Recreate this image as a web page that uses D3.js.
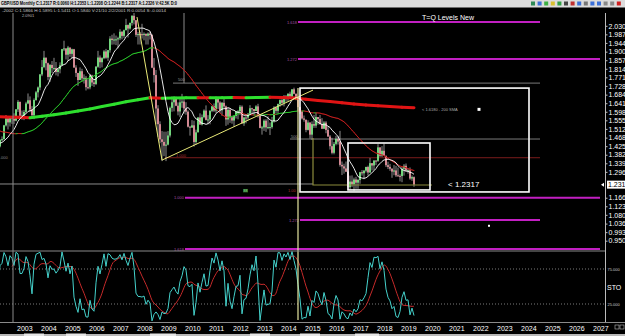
<!DOCTYPE html>
<html>
<head>
<meta charset="utf-8">
<script src="https://cdn.jsdelivr.net/npm/d3@7"></script>
<style>
body { margin: 0; background: #000; overflow: hidden; }
svg { display: block; font-family: "Liberation Sans", Arial, sans-serif; }
</style>
</head>
<body>
<svg id="chart" width="625" height="336"></svg>
<script>
// GBP/USD monthly, values (bars start Jan 2001)
var earlyCloses = [ // 1999-2000, only used to warm up the moving averages
  1.6434,1.6061,1.6122,1.6098,1.6037,1.5769,1.6091,1.6092,1.6463,1.6418,1.5928,1.6152,
  1.6154,1.5813,1.5930,1.5618,1.4994,1.5126,1.4940,1.4533,1.4792,1.4534,1.4205,1.4935];

var closes = [
  1.4642,1.4468,1.4212,1.4323,1.4215,1.4133,1.4226,1.4522,1.4715,1.4521,1.4242,1.4545,
  1.4193,1.4239,1.4239,1.4567,1.4604,1.5296,1.5651,1.5446,1.5705,1.5638,1.5533,1.6099,
  1.6480,1.5780,1.5792,1.5973,1.6397,1.6557,1.6098,1.5805,1.6571,1.6957,1.7202,1.7854,
  1.8226,1.8699,1.8420,1.7730,1.8331,1.8175,1.8175,1.7979,1.8116,1.8316,1.9126,1.9164,
  1.8847,1.9207,1.8890,1.9121,1.8200,1.7931,1.7575,1.8018,1.7659,1.7687,1.7215,1.7208,
  1.7807,1.7451,1.7378,1.8242,1.8706,1.8469,1.8675,1.9012,1.8697,1.9075,1.9654,1.9584,
  1.9612,1.9619,1.9675,2.0000,1.9794,2.0077,2.0337,2.0162,2.0445,2.0802,2.0581,1.9846,
  1.9883,1.9879,1.9864,1.9894,1.9802,1.9908,1.9835,1.8197,1.7823,1.6144,1.5356,1.4593,
  1.4466,1.4274,1.4328,1.4787,1.6175,1.6457,1.6698,1.6284,1.5996,1.6454,1.6491,1.6149,
  1.5983,1.5228,1.5183,1.5298,1.4462,1.4946,1.5690,1.5338,1.5709,1.6037,1.5571,1.5593,
  1.6026,1.6253,1.6040,1.6700,1.6445,1.6054,1.6428,1.6247,1.5593,1.6077,1.5701,1.5541,
  1.5770,1.5993,1.6007,1.6234,1.5396,1.5690,1.5688,1.5880,1.6156,1.6114,1.6020,1.6250,
  1.5856,1.5168,1.5194,1.5529,1.5193,1.5209,1.5210,1.5494,1.6188,1.6028,1.6365,1.6565,
  1.6432,1.6753,1.6662,1.6884,1.6740,1.7109,1.6885,1.6597,1.6213,1.5998,1.5643,1.5577,
  1.5069,1.5438,1.4830,1.5359,1.5283,1.5715,1.5613,1.5365,1.5127,1.5435,1.5068,1.4736,
  1.4249,1.3917,1.4367,1.4616,1.4483,1.3310,1.3235,1.3130,1.2969,1.2190,1.2471,1.2338,
  1.2577,1.2418,1.2550,1.2942,1.2888,1.3020,1.3203,1.2930,1.3397,1.3281,1.3525,1.3512,
  1.4190,1.3771,1.4020,1.3769,1.3295,1.3208,1.3117,1.2974,1.3029,1.2785,1.2758,1.2751,
  1.3112,1.3266,1.3028,1.3040,1.2624,1.2694,1.2317];

var highs = [
  1.5070,1.4780,1.4700,1.4440,1.4390,1.4250,1.4390,1.4560,1.4790,1.4770,1.4560,1.4600,
  1.4640,1.4350,1.4340,1.4600,1.4740,1.5320,1.5810,1.5650,1.5720,1.5750,1.5900,1.6120,
  1.6570,1.6480,1.6040,1.6070,1.6480,1.6900,1.6750,1.6260,1.6650,1.7030,1.7250,1.7880,
  1.8580,1.9040,1.8700,1.8450,1.8380,1.8530,1.8690,1.8480,1.8160,1.8460,1.9140,1.9550,
  1.9120,1.9290,1.9200,1.9150,1.9140,1.8320,1.7870,1.8210,1.8140,1.7860,1.7780,1.7620,
  1.7880,1.7840,1.7600,1.8280,1.9040,1.8810,1.8720,1.9080,1.9140,1.9080,1.9780,1.9850,
  1.9920,1.9810,1.9750,2.0130,2.0030,2.0110,2.0650,2.0370,2.0460,2.0830,2.1160,2.0560,
  1.9990,1.9990,2.0400,1.9970,1.9920,1.9970,2.0000,1.9880,1.8680,1.8080,1.6310,1.5500,
  1.5010,1.4980,1.4980,1.5010,1.6240,1.6750,1.6740,1.6740,1.6450,1.6690,1.6880,1.6690,
  1.6460,1.6050,1.5270,1.5560,1.5530,1.5080,1.5720,1.5900,1.5840,1.6100,1.6300,1.5810,
  1.6060,1.6280,1.6400,1.6750,1.6700,1.6510,1.6470,1.6620,1.6290,1.6170,1.6160,1.5780,
  1.5810,1.5990,1.6060,1.6320,1.6300,1.5730,1.5780,1.5920,1.6310,1.6180,1.6100,1.6310,
  1.6380,1.5860,1.5270,1.5600,1.5610,1.5750,1.5440,1.5720,1.6260,1.6260,1.6390,1.6600,
  1.6670,1.6820,1.6820,1.6910,1.6990,1.7110,1.7190,1.6890,1.6660,1.6230,1.6030,1.5790,
  1.5590,1.5550,1.5450,1.5500,1.5820,1.5930,1.5680,1.5820,1.5660,1.5510,1.5510,1.5240,
  1.4810,1.4670,1.4460,1.4770,1.4770,1.5020,1.3480,1.3370,1.3480,1.2980,1.2770,1.2780,
  1.2670,1.2710,1.2610,1.2960,1.3050,1.3050,1.3220,1.3270,1.3660,1.3340,1.3550,1.3550,
  1.4350,1.4140,1.4250,1.4380,1.3770,1.3470,1.3360,1.3140,1.3300,1.3260,1.3180,1.2840,
  1.3220,1.3350,1.3380,1.3140,1.3180,1.2780,1.2730];

var lows = [
  1.4460,1.4390,1.4160,1.4120,1.4060,1.3690,1.4020,1.4170,1.4350,1.4360,1.4090,1.4220,
  1.4060,1.4110,1.4090,1.4190,1.4500,1.4580,1.5240,1.5090,1.5240,1.5370,1.5360,1.5500,
  1.5970,1.5710,1.5580,1.5560,1.5880,1.6360,1.5960,1.5620,1.5610,1.6530,1.6700,1.7060,
  1.7770,1.8170,1.8060,1.7560,1.7480,1.7930,1.8050,1.7810,1.7760,1.7910,1.8300,1.9030,
  1.8610,1.8530,1.8740,1.8660,1.8200,1.7730,1.7280,1.7570,1.7500,1.7400,1.7050,1.7110,
  1.7110,1.7280,1.7230,1.7320,1.8190,1.8170,1.8210,1.8620,1.8640,1.8540,1.8950,1.9350,
  1.9360,1.9330,1.9170,1.9580,1.9620,1.9690,2.0080,1.9710,2.0110,2.0310,2.0370,1.9740,
  1.9360,1.9360,1.9660,1.9570,1.9360,1.9360,1.9610,1.8170,1.7450,1.5350,1.4720,1.4400,
  1.3500,1.3750,1.3500,1.4290,1.4690,1.5980,1.6000,1.6260,1.5800,1.5710,1.6180,1.5880,
  1.5830,1.5190,1.4780,1.5180,1.4230,1.4330,1.4950,1.5330,1.5290,1.5650,1.5540,1.5350,
  1.5350,1.5960,1.5970,1.5930,1.6120,1.5910,1.5780,1.6160,1.5270,1.5330,1.5420,1.5380,
  1.5230,1.5640,1.5600,1.5810,1.5390,1.5270,1.5400,1.5570,1.5880,1.5910,1.5830,1.6010,
  1.5690,1.5150,1.4830,1.5020,1.4970,1.5100,1.4810,1.5130,1.5430,1.5890,1.5880,1.6230,
  1.6290,1.6250,1.6480,1.6500,1.6690,1.6690,1.6860,1.6560,1.6050,1.5870,1.5590,1.5480,
  1.4950,1.5040,1.4630,1.4570,1.5170,1.5170,1.5330,1.5330,1.5110,1.5110,1.4900,1.4720,
  1.4080,1.3840,1.3840,1.4290,1.4330,1.3220,1.2800,1.2870,1.2950,1.2050,1.2080,1.2200,
  1.2000,1.2110,1.2110,1.2360,1.2770,1.2590,1.2930,1.2770,1.2910,1.3030,1.3040,1.3300,
  1.3460,1.3710,1.3710,1.3760,1.3200,1.3100,1.3010,1.2660,1.2790,1.2700,1.2720,1.2480,
  1.2440,1.2770,1.2960,1.2870,1.2560,1.2510,1.2210];

// 200 SMA (year, price)
var sma200Years = [2002.0,2002.5,2003.0,2003.5,2004.0,2004.5,2005.0,2005.5,2006.0,2006.5,2007.0,2007.5,2008.0,2008.5,
  2009.0,2009.5,2010.0,2010.5,2011.0,2011.5,2012.0,2012.5,2013.0,2013.5,2014.0,2014.5,2015.0,2015.5,
  2016.0,2016.5,2017.0,2017.5,2018.0,2018.5,2019.0,2019.5];
var sma200Values = [1.575,1.572,1.570,1.568,1.575,1.583,1.592,1.602,1.612,1.624,1.636,1.648,1.658,1.668,
  1.666,1.667,1.668,1.669,1.668,1.669,1.670,1.669,1.670,1.671,1.670,1.667,1.661,1.655,
  1.649,1.643,1.637,1.632,1.628,1.624,1.621,1.618];

var priceTicks = [2.030,1.987,1.944,1.900,1.857,1.814,1.771,1.728,1.684,1.641,1.598,1.555,1.512,
  1.468,1.425,1.382,1.339,1.296,1.253,1.210,1.166,1.123,1.080,1.036,0.993,0.950];
var yearLabels = d3.range(2003, 2028);
var stoLevels = [75, 25];
var lastPrice = 1.2317;

// T=Q levels: price, label, first month, last month (months since Jan 2003)
var tqLevels = [
  { p: 2.049, label: '1.618', m0: 140, m1: 261 },
  { p: 1.863, label: '1.272', m0: 140, m1: 291 },
  { p: 1.166, label: '1.000', m0: 83.5, m1: 291 },
  { p: 1.054, label: '1.272', m0: 141, m1: 261 },
  { p: 0.908, label: '1.618', m0: 83.5, m1: 291 }
];

var svg = d3.select('#chart');
var W = 625, H = 336;
var plotRight = 605;
var mainTop = 13, mainBottom = 251;
var stoTop = 251, stoBottom = 322;

var x = d3.scaleLinear().domain([0, 288]).range([18, 594]);          // months since Jan 2003
var y = d3.scaleLinear().domain([0.950, 2.030]).range([240.7, 25.8]);
var ys = d3.scaleLinear().domain([0, 100]).range([321.5, 251.5]);

svg.append('rect').attr('width', W).attr('height', H).attr('fill', '#000');

var defs = svg.append('defs');
defs.append('clipPath').attr('id', 'clipMain').append('rect')
  .attr('x', 0).attr('y', mainTop).attr('width', plotRight).attr('height', mainBottom - mainTop);
defs.append('clipPath').attr('id', 'clipSto').append('rect')
  .attr('x', 0).attr('y', stoTop).attr('width', plotRight).attr('height', stoBottom - stoTop);

// bars
var allCloses = earlyCloses.concat(closes);
var bars = closes.map(function (c, i) {
  var o = allCloses[i + earlyCloses.length - 1];
  return { m: i - 24, o: o, c: c, h: Math.max(highs[i], o, c), l: Math.min(lows[i], o, c) };
});

function sma(n) {
  return closes.map(function (c, i) {
    var g = i + earlyCloses.length;
    if (g < n - 1) return null;
    return { m: i - 24, v: d3.mean(allCloses.slice(g - n + 1, g + 1)) };
  }).filter(function (d) { return d; });
}

var main = svg.append('g').attr('clip-path', 'url(#clipMain)');
var sto = svg.append('g').attr('clip-path', 'url(#clipSto)');

// grey fib / guide lines
var guides = [
  { p: 1.742, m0: 77.5, m1: 261, c: '#7a7a7a' },
  { p: 1.461, m0: 136, m1: 261, c: '#7a7a7a' },
  { p: 1.367, m0: 73.5, m1: 261, c: '#7a1c1c' },
  { p: 1.235, m0: -12, m1: 147.5, c: '#8a8a8a' }
];
main.selectAll('.guide').data(guides).join('line').attr('class', 'guide')
  .attr('x1', function (d) { return x(d.m0); }).attr('x2', function (d) { return x(d.m1); })
  .attr('y1', function (d) { return y(d.p); }).attr('y2', function (d) { return y(d.p); })
  .attr('stroke', function (d) { return d.c; }).attr('stroke-width', 1);

// vertical guides
svg.append('line').attr('x1', x(-2.5)).attr('x2', x(-2.5)).attr('y1', mainTop).attr('y2', stoBottom)
  .attr('stroke', '#8a8a8a').attr('stroke-width', 1);
main.append('line').attr('x1', x(83)).attr('x2', x(83)).attr('y1', mainTop).attr('y2', y(1.742))
  .attr('stroke', '#8a8a8a').attr('stroke-width', 1);

// candles
var candle = main.selectAll('.bar').data(bars).join('g').attr('class', 'bar');
candle.append('line')
  .attr('x1', function (d) { return x(d.m); }).attr('x2', function (d) { return x(d.m); })
  .attr('y1', function (d) { return y(d.h); }).attr('y2', function (d) { return y(d.l); })
  .attr('stroke', '#c8c8c8').attr('stroke-width', 0.7);
candle.append('rect')
  .attr('x', function (d) { return x(d.m) - 0.8; }).attr('width', 1.6)
  .attr('y', function (d) { return y(Math.max(d.o, d.c)); })
  .attr('height', function (d) { return Math.max(1, Math.abs(y(d.o) - y(d.c))); })
  .attr('fill', function (d) { return d.c >= d.o ? '#7dfb8a' : '#f59aa6'; });

// slope coloured moving averages
function slopeLine(g, pts, width, up, down) {
  var segs = d3.pairs(pts);
  g.append('g').selectAll('line').data(segs).join('line')
    .attr('x1', function (d) { return x(d[0].m); }).attr('y1', function (d) { return y(d[0].v); })
    .attr('x2', function (d) { return x(d[1].m); }).attr('y2', function (d) { return y(d[1].v); })
    .attr('stroke', function (d) { return d[1].v >= d[0].v ? up : down; })
    .attr('stroke-width', width).attr('stroke-linecap', 'round');
}
var sma200 = sma200Years.map(function (yr, i) { return { m: (yr - 2003) * 12, v: sma200Values[i] }; });
slopeLine(main, sma200, 3, '#2ee02e', '#e01414');
slopeLine(main, sma(36), 1, '#29c429', '#c41e1e');

var line = d3.line().x(function (d) { return x(d.m); }).y(function (d) { return y(d.v); });
main.append('path').datum(sma(10)).attr('d', line)
  .attr('fill', 'none').attr('stroke', '#ffffff').attr('stroke-width', 0.9);

// trend lines (yellow) and boxes
var trends = [
  [[59.5, 2.074], [72, 1.355]],
  [[72, 1.355], [147.5, 1.707]]
];
main.selectAll('.trend').data(trends).join('line').attr('class', 'trend')
  .attr('x1', function (d) { return x(d[0][0]); }).attr('y1', function (d) { return y(d[0][1]); })
  .attr('x2', function (d) { return x(d[1][0]); }).attr('y2', function (d) { return y(d[1][1]); })
  .attr('stroke', '#eaea78').attr('stroke-width', 1);
svg.append('line').attr('x1', x(140)).attr('x2', x(140)).attr('y1', y(1.717)).attr('y2', stoBottom - 2)
  .attr('stroke', '#e6e6a0').attr('stroke-width', 1.2);

main.append('path')
  .attr('d', 'M' + x(147.5) + ',' + y(1.466) + 'V' + y(1.230) + 'H' + x(207))
  .attr('fill', 'none').attr('stroke', '#8c8c3c').attr('stroke-width', 1.2);

var boxes = [
  { m0: 141, m1: 255.5, p0: 1.717, p1: 1.195 },
  { m0: 165, m1: 206, p0: 1.441, p1: 1.205 }
];
main.selectAll('.box').data(boxes).join('rect').attr('class', 'box')
  .attr('x', function (d) { return x(d.m0); }).attr('width', function (d) { return x(d.m1) - x(d.m0); })
  .attr('y', function (d) { return y(d.p0); }).attr('height', function (d) { return y(d.p1) - y(d.p0); })
  .attr('fill', 'none').attr('stroke', '#ffffff').attr('stroke-width', 1.6);

// T=Q magenta levels
main.selectAll('.tq').data(tqLevels).join('line').attr('class', 'tq')
  .attr('x1', function (d) { return x(d.m0); }).attr('x2', function (d) { return x(d.m1); })
  .attr('y1', function (d) { return y(d.p); }).attr('y2', function (d) { return y(d.p); })
  .attr('stroke', '#c21fc2').attr('stroke-width', 2);
main.selectAll('.tqLabel').data(tqLevels).join('text').attr('class', 'tqLabel')
  .attr('x', function (d) { return x(d.m0) - 1; }).attr('y', function (d) { return y(d.p) + 1.5; })
  .attr('text-anchor', 'end').attr('font-size', 4).attr('fill', '#a050a0')
  .text(function (d) { return d.label; });

// small object labels
var notes = [
  { m: 2, p: 2.072, t: '2.0901', c: '#bbbbbb', s: 4 },
  { m: -9, p: 1.360, t: '.000', c: '#888888', s: 4 },
  { m: 80, p: 1.752, t: '500', c: '#999999', s: 4 },
  { m: 136.5, p: 1.466, t: '500', c: '#999999', s: 4 },
  { m: 79, p: 1.372, t: '1.000', c: '#a03030', s: 4 },
  { m: 135, p: 1.195, t: '1.00', c: '#a03030', s: 4 },
  { m: 202, p: 1.603, t: '< 1.6180 - 200 SMA', c: '#aaaaaa', s: 4 }
];
main.selectAll('.note').data(notes).join('text').attr('class', 'note')
  .attr('x', function (d) { return x(d.m); }).attr('y', function (d) { return y(d.p); })
  .attr('font-size', function (d) { return d.s; }).attr('fill', function (d) { return d.c; })
  .text(function (d) { return d.t; });
main.append('rect').attr('x', x(112.5)).attr('y', y(1.195) - 3).attr('width', 5).attr('height', 3.5)
  .attr('fill', '#1f5a1f');
main.append('text').attr('x', x(112.5) + 0.6).attr('y', y(1.195)).attr('font-size', 3.5)
  .attr('fill', '#9be09b').text('88');
main.append('rect').attr('x', x(230.5) - 1.5).attr('y', y(1.610) - 1.5).attr('width', 3).attr('height', 3).attr('fill', '#fff');
main.append('rect').attr('x', x(235.5) - 1).attr('y', y(1.025) - 1).attr('width', 2).attr('height', 2).attr('fill', '#fff');

main.append('text').attr('x', x(215)).attr('y', y(1.2317) + 2.5).attr('font-size', 8)
  .attr('fill', '#ffffff').text('< ' + lastPrice.toFixed(4));
svg.append('text').attr('x', 448).attr('y', 20).attr('text-anchor', 'middle').attr('font-size', 7)
  .attr('fill', '#ffffff').text('T=Q Levels New');

// stochastic (14, 1, 9)
var stoK = bars.map(function (b, i) {
  if (i < 13) return null;
  var win = bars.slice(i - 13, i + 1);
  var hh = d3.max(win, function (d) { return d.h; }), ll = d3.min(win, function (d) { return d.l; });
  return (b.c - ll) / (hh - ll) * 100;
});
var stoD = stoK.map(function (v, i) { return i < 21 ? null : d3.mean(stoK.slice(i - 8, i + 1)); });
var stoLine = d3.line().defined(function (d) { return d.v != null; })
  .x(function (d) { return x(d.m); }).y(function (d) { return ys(d.v); });

sto.selectAll('.lvl').data(stoLevels).join('line').attr('class', 'lvl')
  .attr('x1', 0).attr('x2', plotRight).attr('y1', function (d) { return ys(d); }).attr('y2', function (d) { return ys(d); })
  .attr('stroke', '#9a9a9a').attr('stroke-width', 0.8).attr('stroke-dasharray', '1,2');
sto.append('path').datum(bars.map(function (b, i) { return { m: b.m, v: stoD[i] }; }))
  .attr('d', stoLine.curve(d3.curveBasis)).attr('fill', 'none').attr('stroke', '#c42a2a').attr('stroke-width', 1);
sto.append('path').datum(bars.map(function (b, i) { return { m: b.m, v: stoK[i] }; }))
  .attr('d', stoLine.curve(d3.curveLinear)).attr('fill', 'none').attr('stroke', '#45d2cc').attr('stroke-width', 1);

// panel separators and price axis line
svg.append('line').attr('x1', 0).attr('x2', plotRight).attr('y1', stoTop).attr('y2', stoTop).attr('stroke', '#8a8a8a');
svg.append('line').attr('x1', 0).attr('x2', W).attr('y1', stoBottom + 0.5).attr('y2', stoBottom + 0.5).attr('stroke', '#8a8a8a');
svg.append('line').attr('x1', plotRight + 0.5).attr('x2', plotRight + 0.5).attr('y1', mainTop).attr('y2', stoBottom)
  .attr('stroke', '#bbbbbb');

// right price axis (the two ticks hidden by the price box are left out)
var yAxis = d3.axisRight(y).tickValues(priceTicks.filter(function (p) { return Math.abs(p - lastPrice) > 0.03; }))
  .tickFormat(d3.format('.3f')).tickSize(2).tickPadding(1);
var gy = svg.append('g').attr('transform', 'translate(' + (plotRight + 0.5) + ',0)').call(yAxis);
gy.select('.domain').remove();
gy.selectAll('line').attr('stroke', '#bbbbbb');
gy.selectAll('text').attr('fill', '#ffffff').attr('font-size', 7);

svg.append('rect').attr('x', 607).attr('y', y(lastPrice) - 4).attr('width', 18).attr('height', 8).attr('fill', '#fff');
svg.append('text').attr('x', 608).attr('y', y(lastPrice) + 2.5).attr('font-size', 7).attr('fill', '#000').text('1.231');
svg.append('path').attr('d', 'M601,' + y(lastPrice) + 'l3,-2v4z').attr('fill', '#fff');

var stoAxis = d3.axisRight(ys).tickValues(stoLevels).tickFormat(d3.format('.3f')).tickSize(0).tickPadding(2);
var gs = svg.append('g').attr('transform', 'translate(' + (plotRight + 0.5) + ',0)').call(stoAxis);
gs.select('.domain').remove();
gs.selectAll('text').attr('fill', '#cccccc').attr('font-size', 4);
svg.append('text').attr('x', 607).attr('y', ys(50) + 3).attr('font-size', 7).attr('fill', '#fff').text('STO');

// time axis
svg.selectAll('.yr').data(yearLabels).join('text').attr('class', 'yr')
  .attr('x', function (d) { return x((d - 2003) * 12) - 1; }).attr('y', 331)
  .attr('font-size', 7).attr('fill', '#ffffff').text(function (d) { return d; });
svg.append('rect').attr('x', 615).attr('y', 325).attr('width', 4).attr('height', 4).attr('fill', 'none').attr('stroke', '#bbb').attr('stroke-width', 0.6);
svg.append('rect').attr('x', 620).attr('y', 325).attr('width', 4).attr('height', 4).attr('fill', 'none').attr('stroke', '#bbb').attr('stroke-width', 0.6);

// bottom tab strip
svg.append('rect').attr('x', 0).attr('y', 334).attr('width', W).attr('height', 2).attr('fill', '#b8b8b8');
[[24, 20], [66, 20], [150, 26], [250, 20], [300, 20], [355, 24]].forEach(function (t) {
  svg.append('rect').attr('x', t[0]).attr('y', 333.5).attr('width', t[1]).attr('height', 2.5).attr('fill', '#e6e6e6');
});

// title bar and info line
svg.append('rect').attr('x', 0).attr('y', 0).attr('width', W).attr('height', 7.5).attr('fill', '#dcdcdc');
svg.append('text').attr('x', 1).attr('y', 5.3).attr('font-size', 5).attr('font-weight', 'bold').attr('fill', '#000')
  .attr('textLength', 176).attr('lengthAdjust', 'spacingAndGlyphs')
  .text('GBP/USD Monthly  C:1.2317  R:0.0060  H:1.2353  L:1.2208  O:1.2244  B:1.2317  A:1.2326  V:42.5K  D:0');
svg.append('text').attr('x', 2).attr('y', 12.4).attr('font-size', 4).attr('fill', '#c8c8c8')
  .attr('textLength', 164).attr('lengthAdjust', 'spacingAndGlyphs')
  .text('-2002  C:1.5866  H:1.5895  L:1.5411  O:1.5840  V:21/10  2/2/2001  R:0.0054  S:-0.0014');

var icons = ['#2e8b57', '#3a6fd8', '#3cb043', '#d8c030', '#2f9e44', '#444', '#c03030', '#3a6fd8', '#777', '#3a6fd8', '#3a6fd8', '#888', '#888', '#d02020'];
svg.selectAll('.icon').data(icons).join('rect').attr('class', 'icon')
  .attr('x', function (d, i) { return 531 + i * 6.6; }).attr('y', 1.5).attr('width', 4).attr('height', 4)
  .attr('fill', function (d) { return d; });
</script>
</body>
</html>
